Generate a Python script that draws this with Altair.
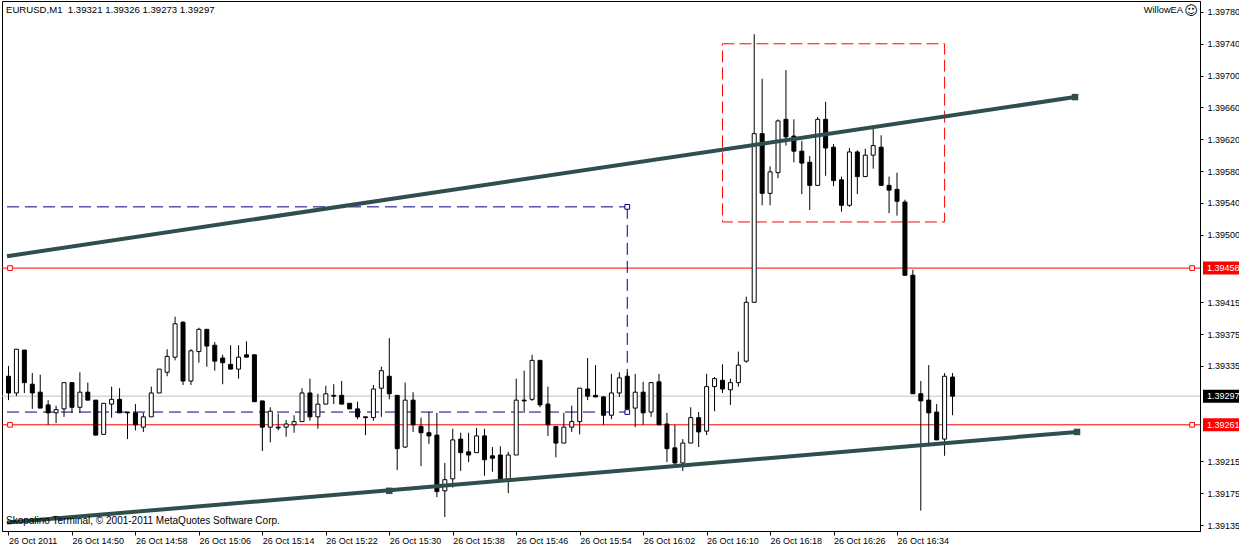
import altair as alt
import pandas as pd

# ---------------- data (EURUSD M1, 26 Oct 2011, 14:42 .. 16:41) ----------------
opens = [
    1.39322, 1.39301, 1.39355, 1.39312, 1.39302, 1.39286, 1.39276, 1.39281, 1.39314, 1.39283,
    1.39302, 1.39292, 1.39249, 1.39287, 1.39293, 1.39277, 1.39276, 1.39258, 1.39271, 1.39301,
    1.39327, 1.39346, 1.39390, 1.39316, 1.39353, 1.39381, 1.39361, 1.39345, 1.39337, 1.39331,
    1.39349, 1.39349, 1.39291, 1.39258, 1.39258, 1.39258, 1.39261, 1.39265, 1.39301, 1.39271,
    1.39287, 1.39298, 1.39298, 1.39288, 1.39281, 1.39271, 1.39270, 1.39307, 1.39322, 1.39298,
    1.39233, 1.39292, 1.39259, 1.39251, 1.39248, 1.39178, 1.39193, 1.39243, 1.39227, 1.39226,
    1.39247, 1.39222, 1.39223, 1.39193, 1.39223, 1.39292, 1.39293, 1.39342, 1.39287, 1.39259,
    1.39238, 1.39258, 1.39265, 1.39306, 1.39298, 1.39296, 1.39273, 1.39301, 1.39322, 1.39282,
    1.39302, 1.39277, 1.39315, 1.39262, 1.39232, 1.39213, 1.39238, 1.39270, 1.39253, 1.39309,
    1.39317, 1.39305, 1.39314, 1.39341, 1.39415, 1.39627, 1.39552, 1.39578, 1.39645, 1.39624,
    1.39605, 1.39591, 1.39562, 1.39645, 1.39610, 1.39569, 1.39537, 1.39604, 1.39573, 1.39600,
    1.39610, 1.39562, 1.39557, 1.39541, 1.39449, 1.39300, 1.39292, 1.39277, 1.39243, 1.39321,
]
highs = [
    1.39335, 1.39356, 1.39355, 1.39326, 1.39324, 1.39292, 1.39285, 1.39314, 1.39314, 1.39327,
    1.39314, 1.39292, 1.39288, 1.39309, 1.39307, 1.39277, 1.39287, 1.39276, 1.39309, 1.39331,
    1.39356, 1.39397, 1.39391, 1.39356, 1.39383, 1.39381, 1.39365, 1.39349, 1.39361, 1.39361,
    1.39366, 1.39349, 1.39291, 1.39283, 1.39275, 1.39267, 1.39273, 1.39307, 1.39319, 1.39300,
    1.39310, 1.39312, 1.39316, 1.39288, 1.39290, 1.39271, 1.39311, 1.39334, 1.39370, 1.39298,
    1.39314, 1.39302, 1.39270, 1.39277, 1.39276, 1.39213, 1.39256, 1.39251, 1.39251, 1.39257,
    1.39256, 1.39233, 1.39234, 1.39227, 1.39319, 1.39329, 1.39349, 1.39342, 1.39309, 1.39259,
    1.39276, 1.39285, 1.39307, 1.39345, 1.39336, 1.39297, 1.39325, 1.39327, 1.39327, 1.39325,
    1.39315, 1.39315, 1.39325, 1.39276, 1.39261, 1.39243, 1.39283, 1.39277, 1.39325, 1.39321,
    1.39337, 1.39319, 1.39353, 1.39422, 1.39752, 1.39696, 1.39586, 1.39645, 1.39707, 1.39645,
    1.39618, 1.39599, 1.39648, 1.39667, 1.39614, 1.39573, 1.39609, 1.39606, 1.39608, 1.39637,
    1.39625, 1.39573, 1.39578, 1.39544, 1.39456, 1.39316, 1.39336, 1.39287, 1.39326, 1.39326,
]
lows = [
    1.39292, 1.39297, 1.39301, 1.39281, 1.39282, 1.39261, 1.39263, 1.39271, 1.39276, 1.39276,
    1.39292, 1.39248, 1.39249, 1.39270, 1.39276, 1.39243, 1.39254, 1.39252, 1.39271, 1.39301,
    1.39322, 1.39342, 1.39311, 1.39311, 1.39339, 1.39334, 1.39329, 1.39312, 1.39331, 1.39319,
    1.39346, 1.39290, 1.39228, 1.39239, 1.39254, 1.39246, 1.39251, 1.39265, 1.39266, 1.39256,
    1.39287, 1.39287, 1.39287, 1.39281, 1.39268, 1.39248, 1.39266, 1.39271, 1.39293, 1.39204,
    1.39232, 1.39252, 1.39209, 1.39237, 1.39170, 1.39145, 1.39182, 1.39203, 1.39214, 1.39226,
    1.39197, 1.39202, 1.39193, 1.39175, 1.39223, 1.39276, 1.39291, 1.39283, 1.39247, 1.39220,
    1.39238, 1.39252, 1.39249, 1.39292, 1.39296, 1.39261, 1.39268, 1.39296, 1.39281, 1.39258,
    1.39261, 1.39271, 1.39261, 1.39214, 1.39210, 1.39203, 1.39238, 1.39233, 1.39248, 1.39278,
    1.39301, 1.39286, 1.39309, 1.39339, 1.39415, 1.39537, 1.39537, 1.39571, 1.39612, 1.39591,
    1.39551, 1.39531, 1.39562, 1.39574, 1.39561, 1.39529, 1.39535, 1.39551, 1.39573, 1.39583,
    1.39562, 1.39527, 1.39524, 1.39449, 1.39300, 1.39153, 1.39234, 1.39242, 1.39222, 1.39273,
]
closes = [
    1.39301, 1.39356, 1.39314, 1.39301, 1.39282, 1.39276, 1.39280, 1.39314, 1.39283, 1.39302,
    1.39292, 1.39248, 1.39288, 1.39293, 1.39276, 1.39276, 1.39261, 1.39271, 1.39301, 1.39331,
    1.39347, 1.39388, 1.39316, 1.39354, 1.39381, 1.39360, 1.39341, 1.39339, 1.39331, 1.39346,
    1.39346, 1.39290, 1.39258, 1.39278, 1.39257, 1.39262, 1.39265, 1.39301, 1.39271, 1.39287,
    1.39300, 1.39297, 1.39287, 1.39281, 1.39271, 1.39270, 1.39306, 1.39329, 1.39300, 1.39231,
    1.39292, 1.39261, 1.39251, 1.39247, 1.39177, 1.39192, 1.39242, 1.39226, 1.39223, 1.39247,
    1.39217, 1.39219, 1.39193, 1.39223, 1.39292, 1.39291, 1.39342, 1.39286, 1.39261, 1.39238,
    1.39258, 1.39265, 1.39307, 1.39297, 1.39296, 1.39273, 1.39301, 1.39320, 1.39281, 1.39302,
    1.39276, 1.39314, 1.39261, 1.39231, 1.39213, 1.39238, 1.39270, 1.39252, 1.39309, 1.39319,
    1.39306, 1.39314, 1.39336, 1.39415, 1.39627, 1.39552, 1.39579, 1.39643, 1.39623, 1.39605,
    1.39590, 1.39562, 1.39645, 1.39609, 1.39568, 1.39537, 1.39604, 1.39573, 1.39600, 1.39612,
    1.39562, 1.39556, 1.39542, 1.39449, 1.39300, 1.39291, 1.39276, 1.39242, 1.39322, 1.39297,
]

time_ticks = [0, 8, 16, 24, 32, 40, 48, 56, 64, 72, 80, 88, 96, 104, 112]
time_labels = ["26 Oct 2011", "26 Oct 14:50", "26 Oct 14:58", "26 Oct 15:06", "26 Oct 15:14",
               "26 Oct 15:22", "26 Oct 15:30", "26 Oct 15:38", "26 Oct 15:46", "26 Oct 15:54",
               "26 Oct 16:02", "26 Oct 16:10", "26 Oct 16:18", "26 Oct 16:26", "26 Oct 16:34"]
price_ticks = [1.39780, 1.39740, 1.39700, 1.39660, 1.39620, 1.39580, 1.39540, 1.39500,
               1.39415, 1.39375, 1.39335, 1.39215, 1.39175, 1.39135]

# chart objects (bar index / price)
red_levels = [1.39458, 1.39261]
bid_level = 1.39297
blue_level_hi, blue_level_lo, blue_end = 1.39535, 1.39277, 78
box_i, box_i2, box_hi, box_lo = 90, 118, 1.39740, 1.39516
upper_tl_i = [-0.1875, 134.44]
upper_tl_p = [1.39473, 1.39673]
lower_tl_i = [-0.1875, 134.69]
lower_tl_p = [1.39138, 1.39252]
lower_tl_anchor = (48, 1.39178)

FONT = "Liberation Sans"
FS = 9
SLATE = "#2F4F4F"

xs = alt.Scale(domain=[-0.1875, 149.5625], nice=False, zero=False)
ys = alt.Scale(domain=[1.3912746, 1.397938], nice=False, zero=False)

label_expr = "[" + ",".join("'%s'" % t for t in time_labels) + "][datum.value / 8]"
x_axis = alt.Axis(values=time_ticks, labelExpr=label_expr, title=None, orient="bottom", tickSize=4,
                  labelAlign="left", labelBaseline="top", labelPadding=1, labelFont=FONT,
                  labelFontSize=FS, labelColor="black", tickColor="black", domainColor="black",
                  grid=False, labelFlush=False, labelOverlap=False)
y_axis = alt.Axis(values=price_ticks, format=".5f", orient="right", title=None, tickSize=3,
                  labelPadding=4, labelFont=FONT, labelFontSize=FS, labelColor="black",
                  tickColor="black", domainColor="black", grid=False, labelFlush=False,
                  labelOverlap=False, labelBaseline="middle")


def X(field):
    return alt.X(field, scale=xs, axis=x_axis)


def Y(field):
    return alt.Y(field, scale=ys, axis=y_axis)


candles = pd.DataFrame({"i": list(range(len(opens))), "open": opens, "high": highs,
                        "low": lows, "close": closes})
candles["dir"] = ["up" if c >= o else "down" for o, c in zip(opens, closes)]

# full-width horizontal lines
red_lines = alt.Chart(pd.DataFrame({"p": red_levels})).mark_rule(color="#FF0000", strokeWidth=1).encode(
    y=Y("p:Q"))
bid_line = alt.Chart(pd.DataFrame({"p": [bid_level]})).mark_rule(color="#C0C0C0", strokeWidth=1).encode(
    y=Y("p:Q"))

# blue dashed lines
blue_df = pd.DataFrame({
    "i": [xs.domain[0], xs.domain[0], blue_end],
    "i2": [blue_end, blue_end, blue_end],
    "p": [blue_level_hi, blue_level_lo, blue_level_hi],
    "p2": [blue_level_hi, blue_level_lo, blue_level_lo],
})
blue_lines = alt.Chart(blue_df).mark_rule(color="#000080", strokeWidth=1, strokeDash=[12, 6]).encode(
    x=X("i:Q"), x2="i2:Q", y=Y("p:Q"), y2="p2:Q")

# red dashed box
box = alt.Chart(pd.DataFrame({"i": [box_i], "i2": [box_i2], "p": [box_hi], "p2": [box_lo]})).mark_rect(
    fill="transparent", stroke="#FF0000", strokeWidth=1, strokeDash=[12, 5]).encode(
    x=X("i:Q"), x2="i2:Q", y=Y("p:Q"), y2="p2:Q")

# trend lines
tl_df = pd.DataFrame({
    "i": [upper_tl_i[0], lower_tl_i[0]], "i2": [upper_tl_i[1], lower_tl_i[1]],
    "p": [upper_tl_p[0], lower_tl_p[0]], "p2": [upper_tl_p[1], lower_tl_p[1]],
})
trend = alt.Chart(tl_df).mark_rule(color=SLATE, strokeWidth=4, clip=True).encode(
    x=X("i:Q"), x2="i2:Q", y=Y("p:Q"), y2="p2:Q")
tl_pts = pd.DataFrame({"i": [upper_tl_i[1], lower_tl_i[1], lower_tl_anchor[0]],
                       "p": [upper_tl_p[1], lower_tl_p[1], lower_tl_anchor[1]]})
trend_pts = alt.Chart(tl_pts).mark_square(color=SLATE, size=42, opacity=1, filled=True).encode(
    x=X("i:Q"), y=Y("p:Q"))

# small hollow anchor squares
anc = pd.DataFrame({
    "i": [0.19, 149.2, 0.19, 149.2, blue_end, blue_end],
    "p": [red_levels[0], red_levels[0], red_levels[1], red_levels[1], blue_level_hi, blue_level_lo],
    "c": ["r", "r", "r", "r", "b", "b"],
})
anchors = alt.Chart(anc).mark_square(size=22, fill="white", fillOpacity=1, strokeWidth=1, opacity=1).encode(
    x=X("i:Q"), y=Y("p:Q"),
    stroke=alt.Stroke("c:N", scale=alt.Scale(domain=["r", "b"], range=["#FF0000", "#000080"]), legend=None))

# candles
wicks = alt.Chart(candles).mark_rule(color="black", strokeWidth=1).encode(
    x=X("i:Q"), y=Y("low:Q"), y2="high:Q")
bodies = alt.Chart(candles).mark_bar(size=4, stroke="black", strokeWidth=1, orient="vertical").encode(
    x=X("i:Q"), y=Y("open:Q"), y2="close:Q",
    fill=alt.Fill("dir:N", scale=alt.Scale(domain=["up", "down"], range=["white", "black"]), legend=None))

# price label boxes on the right axis
box_path = "M-1,-0.36L1,-0.36L1,0.36L-1,0.36Z"
lab_df = pd.DataFrame({"p": [red_levels[0], bid_level, red_levels[1]], "bg": ["r", "k", "r"]})
lab_df["t"] = [f"{v:.5f}" for v in lab_df["p"]]
lab_boxes = alt.Chart(lab_df).mark_point(shape=box_path, size=1296, filled=True, opacity=1,
                                          strokeWidth=0, clip=False).encode(
    x=alt.value(1219), y=Y("p:Q"),
    color=alt.Color("bg:N", scale=alt.Scale(domain=["r", "k"], range=["#FF0000", "#000000"]), legend=None))
lab_text = alt.Chart(lab_df).mark_text(align="left", baseline="middle", font=FONT, fontSize=FS,
                                        color="white", clip=False).encode(
    x=alt.value(1205), y=Y("p:Q"), text="t:N")

# texts
header = f"EURUSD,M1\u00a0 {opens[-1]:.5f} {highs[-1]:.5f} {lows[-1]:.5f} {closes[-1]:.5f}"
hdr = alt.Chart(pd.DataFrame({"t": [header]})).mark_text(
    align="left", baseline="middle", font=FONT, fontSize=9.6, color="black").encode(
    x=alt.value(4), y=alt.value(9), text="t:N")
ea = alt.Chart(pd.DataFrame({"t": ["WillowEA"]})).mark_text(
    align="right", baseline="middle", font=FONT, fontSize=9.3, color="black").encode(
    x=alt.value(1181), y=alt.value(9), text="t:N")
smile = alt.Chart(pd.DataFrame({"t": ["\u263A"]})).mark_text(
    align="center", baseline="middle", font="DejaVu Sans", fontSize=13, color="black").encode(
    x=alt.value(1189), y=alt.value(10), text="t:N")
copy = alt.Chart(pd.DataFrame({"t": ["Skopalino Terminal, \u00a9 2001-2011 MetaQuotes Software Corp."]})).mark_text(
    align="left", baseline="middle", font=FONT, fontSize=10, color="black").encode(
    x=alt.value(4), y=alt.value(520), text="t:N")

chart = alt.layer(
    red_lines, bid_line, blue_lines, box, wicks, bodies, trend, trend_pts, anchors,
    lab_boxes, lab_text, hdr, ea, smile, copy,
).properties(
    width=1198, height=530,
    padding={"left": 2, "top": 1, "right": 39, "bottom": 16},
    autosize=alt.AutoSizeParams(type="none"),
    background="white",
).configure_view(stroke="black", strokeWidth=1)

chart.save("out.html", embed_options={"renderer": "svg", "actions": False})
